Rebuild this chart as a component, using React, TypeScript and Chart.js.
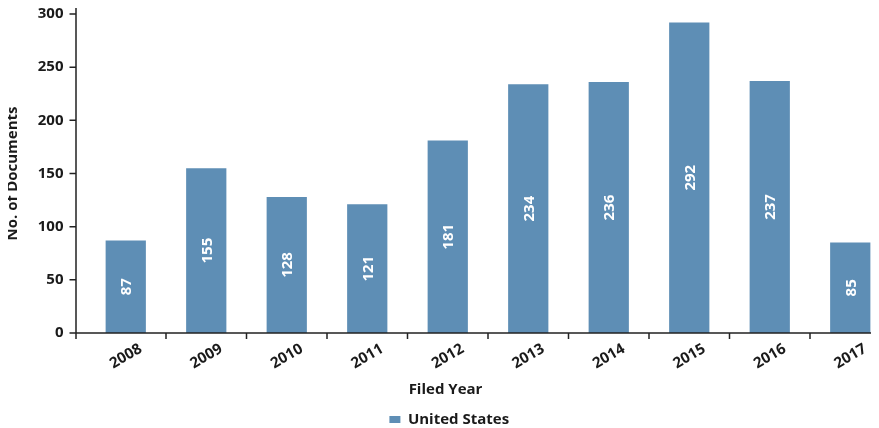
import React, { useEffect, useRef } from "react";
import { Chart, registerables } from "chart.js";

Chart.register(...registerables);

const categories = ["2008", "2009", "2010", "2011", "2012", "2013", "2014", "2015", "2016", "2017"];
const documents = [87, 155, 128, 121, 181, 234, 236, 292, 237, 85];
const seriesName = "United States";
const yTitle = "No. of Documents";
const xTitle = "Filed Year";

const FONT = "'Open Sans', Lato, sans-serif";
const TEXT = "#1a1a1a";
const BAR = "rgb(94,142,181)";

export default function App() {
  const ref = useRef<HTMLCanvasElement>(null);

  useEffect(() => {
    const canvas = ref.current!;
    const labelPlugin = {
      id: "barLabels",
      afterDatasetsDraw(chart: any) {
        const ctx = chart.ctx;
        const meta = chart.getDatasetMeta(0);
        ctx.save();
        ctx.fillStyle = "#ffffff";
        ctx.font = `bold 15px ${FONT}`;
        ctx.textAlign = "center";
        ctx.textBaseline = "middle";
        meta.data.forEach((bar: any, i: number) => {
          const cy = (bar.y + bar.base) / 2;
          ctx.save();
          ctx.translate(bar.x, cy);
          ctx.rotate(-Math.PI / 2);
          ctx.fillText(String(documents[i]), 0, 1);
          ctx.restore();
        });
        ctx.restore();
      },
    };
    const axisPlugin = {
      id: "axes",
      afterDraw(chart: any) {
        const ctx = chart.ctx;
        const area = chart.chartArea;
        const ys = chart.scales.y;
        const xs = chart.scales.x;
        const ax = area.left - 9.5;
        const step = xs.getPixelForValue(1) - xs.getPixelForValue(0);
        ctx.save();
        ctx.strokeStyle = "#222";
        ctx.lineWidth = 1.5;
        ctx.beginPath();
        ctx.moveTo(ax, area.top - 7);
        ctx.lineTo(ax, area.bottom + 6);
        ctx.moveTo(ax, area.bottom);
        ctx.lineTo(chart.width, area.bottom);
        ys.ticks.forEach((t: any) => {
          const py = ys.getPixelForValue(t.value);
          ctx.moveTo(ax - 6.5, py);
          ctx.lineTo(ax, py);
        });
        for (let i = 1; i <= categories.length; i++) {
          const bx = xs.getPixelForValue(i - 1) + step / 2;
          ctx.moveTo(bx, area.bottom);
          ctx.lineTo(bx, area.bottom + 6);
        }
        ctx.stroke();
        ctx.fillStyle = TEXT;
        ctx.font = `bold 15px ${FONT}`;
        ctx.textAlign = "center";
        ctx.textBaseline = "middle";
        ctx.fillText(xTitle, 437.5, 382);
        ctx.restore();
      },
    };

    const chart = new Chart(canvas, {
      type: "bar",
      data: {
        labels: categories,
        datasets: [
          {
            label: seriesName,
            data: documents,
            backgroundColor: BAR,
            borderWidth: 0,
            barPercentage: 0.5,
            categoryPercentage: 1,
          },
        ],
      },
      options: {
        responsive: false,
        animation: false,
        devicePixelRatio: 1,
        layout: { padding: { left: 0, right: 7.5, top: 6, bottom: -9 } },
        plugins: {
          tooltip: { enabled: false },
          legend: {
            position: "bottom",
            labels: {
              boxWidth: 11,
              boxHeight: 7,
              padding: 3,
              color: TEXT,
              font: { family: FONT, size: 15, weight: "bold" },
            },
          },
        },
        scales: {
          x: {
            type: "category",
            offset: true,
            grid: { display: false, drawTicks: false },
            border: { display: false },
            ticks: {
              color: TEXT,
              font: { family: FONT, size: 15, weight: "bold" },
              maxRotation: 30,
              minRotation: 30,
              labelOffset: 15,
              padding: 7,
              autoSkip: false,
            },
            afterFit(s: any) {
              s.height = 76;
              s.paddingLeft = 0;
              s.paddingRight = 0;
            },
          },
          y: {
            min: 0,
            max: 300,
            grid: { display: false, drawTicks: false },
            border: { display: false },
            ticks: {
              stepSize: 50,
              color: TEXT,
              padding: 22,
              font: { family: FONT, size: 15, weight: "bold" },
            },
            title: {
              display: true,
              text: yTitle,
              color: TEXT,
              padding: { top: -4, bottom: 0 },
              font: { family: FONT, size: 15, weight: "bold" },
            },
            afterFit(s: any) {
              s.width = 77.5;
              s.paddingTop = 0;
              s.paddingBottom = 0;
            },
          },
        },
      },
      plugins: [labelPlugin, axisPlugin],
    });
    return () => chart.destroy();
  }, []);

  return (
    <div style={{ width: 871, height: 420, overflow: "hidden", position: "relative" }}>
      <canvas ref={ref} width={890} height={420} style={{ display: "block" }} />
    </div>
  );
}
